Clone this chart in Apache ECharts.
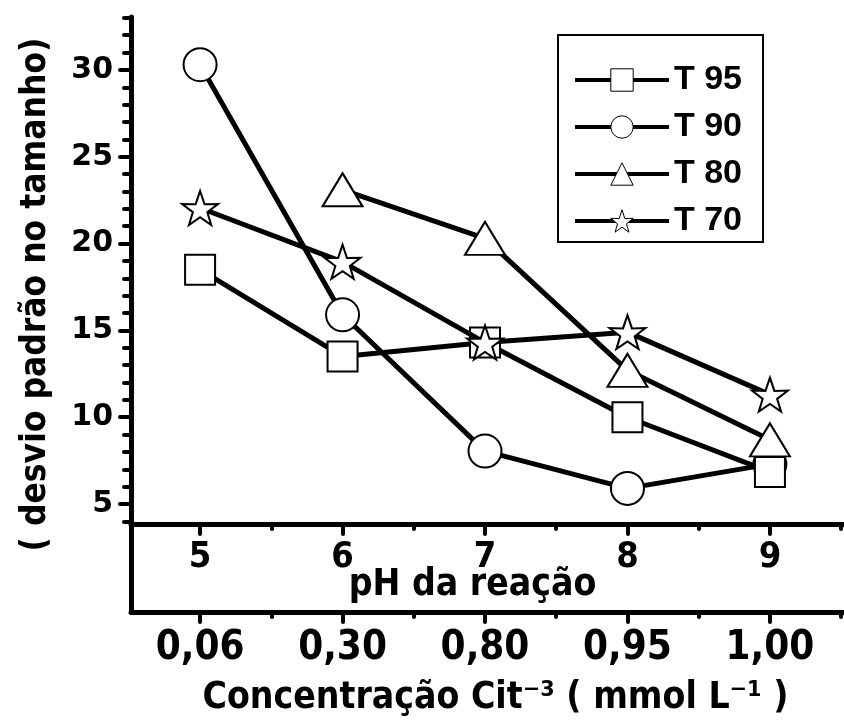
<!DOCTYPE html>
<html lang="pt">
<head>
<meta charset="utf-8">
<title>desvio padrão no tamanho</title>
<script src="https://cdn.jsdelivr.net/npm/echarts@6/dist/echarts.min.js"></script>
<style>
html,body{margin:0;padding:0;background:#fff;}
#main{width:844px;height:722px;}
</style>
</head>
<body>
<div id="main"></div>
<script>
var pH = [5, 6, 7, 8, 9];
var concLabels = ['0,06', '0,30', '0,80', '0,95', '1,00'];
var yTicks = [5, 10, 15, 20, 25, 30];
var yMinor = [4, 6, 7, 8, 9, 11, 12, 13, 14, 16, 17, 18, 19, 21, 22, 23, 24, 26, 27, 28, 29, 31, 32, 33];
var xMinor = [5.5, 6.5, 7.5, 8.5, 9.5];

var t95 = [18.5, 13.5, 14.3, 10.0, 6.85];
var t90 = [30.3, 15.9, 8.05, 5.9, 7.3];
var t80 = [null, 23.1, 20.3, 12.7, 8.7];
var t70 = [22.05, 18.95, 14.3, 14.9, 11.3];

var fontBold = 'DejaVu Sans';
var fontCond = 'DejaVu Sans Condensed';

function pairs(vals){
	var out = [];
	for (var i = 0; i < pH.length; i++) {
		if (vals[i] != null) out.push([pH[i], vals[i]]);
	}
	return out;
}

function serie(name, vals, symbol, size, z){
	return {
		name: name,
		type: 'line',
		xAxisIndex: 0,
		yAxisIndex: 0,
		data: pairs(vals),
		symbol: symbol,
		symbolSize: size,
		lineStyle: {color: '#000', width: 5},
		itemStyle: {color: '#fff', borderColor: '#000', borderWidth: 2},
		emphasis: {disabled: true},
		z: z
	};
}

var tickStyle = {color: '#000', width: 4, cap: 'round'};
var xMin = 4.515, xMax = 9.52;

var chart = echarts.init(document.getElementById('main'));
chart.setOption({
	backgroundColor: '#fff',
	animation: false,
	grid: [
		{left: 131, right: 0, top: 17, height: 507},
		{left: 131, right: 0, top: 524, height: 88}
	],
	legend: {
		left: 558,
		top: 35,
		orient: 'vertical',
		itemWidth: 94,
		itemHeight: 28,
		itemGap: 13,
		padding: [28, 21, 4, 15],
		borderColor: '#000',
		borderWidth: 2,
		itemStyle: {borderWidth: 1},
		lineStyle: {width: 4},
		textStyle: {fontFamily: 'Liberation Sans', fontWeight: 'bold', fontSize: 34, color: '#000'},
		data: ['T 95', 'T 90', 'T 80', 'T 70']
	},
	xAxis: [
		{
			type: 'value', gridIndex: 0, position: 'bottom', min: xMin, max: xMax,
			name: 'pH da reação', nameLocation: 'middle', nameGap: 43, nameMoveOverlap: false,
			nameTextStyle: {fontFamily: fontCond, fontWeight: 'bold', fontSize: 37, color: '#000', padding: [0, 30, 0, 0]},
			axisLine: {lineStyle: {color: '#000', width: 5}},
			axisTick: {customValues: pH, length: 10, lineStyle: tickStyle},
			axisLabel: {customValues: pH, margin: 16, fontFamily: fontCond, fontWeight: 'bold', fontSize: 36, color: '#000'},
			splitLine: {show: false}
		},
		{
			type: 'value', gridIndex: 1, position: 'bottom', min: xMin, max: xMax,
			name: 'Concentração Cit⁻³ ( mmol L⁻¹ )', nameLocation: 'middle', nameGap: 68,
			nameTextStyle: {fontFamily: fontCond, fontWeight: 'bold', fontSize: 37, color: '#000', padding: [0, 0, 0, 16]},
			axisLine: {lineStyle: {color: '#000', width: 5}},
			axisTick: {customValues: pH, length: 10, lineStyle: tickStyle},
			axisLabel: {
				customValues: pH, margin: 17, fontFamily: fontCond, fontWeight: 'bold', fontSize: 40, color: '#000',
				formatter: function(v){ return concLabels[pH.indexOf(v)]; }
			},
			splitLine: {show: false}
		},
		{
			type: 'value', gridIndex: 0, position: 'bottom', min: xMin, max: xMax,
			axisLine: {show: false},
			axisTick: {customValues: xMinor, length: 5, lineStyle: tickStyle},
			axisLabel: {show: false},
			splitLine: {show: false}
		},
		{
			type: 'value', gridIndex: 1, position: 'bottom', min: xMin, max: xMax,
			axisLine: {show: false},
			axisTick: {customValues: xMinor, length: 5, lineStyle: tickStyle},
			axisLabel: {show: false},
			splitLine: {show: false}
		}
	],
	yAxis: [
		{
			type: 'value', gridIndex: 0, position: 'left', min: 3.85, max: 33.05,
			name: '( desvio padrão no tamanho)', nameLocation: 'middle', nameGap: 78,
			nameTextStyle: {fontFamily: fontCond, fontWeight: 'bold', fontSize: 35, color: '#000', padding: [0, 48, 0, 0]},
			axisLine: {lineStyle: {color: '#000', width: 5}},
			axisTick: {customValues: yTicks, length: 11, lineStyle: tickStyle},
			axisLabel: {customValues: yTicks, margin: 18, fontFamily: fontBold, fontWeight: 'bold', fontSize: 30, color: '#000'},
			splitLine: {show: false}
		},
		{
			type: 'value', gridIndex: 1, position: 'left', min: 0, max: 1,
			axisLine: {lineStyle: {color: '#000', width: 5}},
			axisTick: {show: false},
			axisLabel: {show: false},
			splitLine: {show: false}
		},
		{
			type: 'value', gridIndex: 0, position: 'left', min: 3.85, max: 33.05,
			axisLine: {show: false},
			axisTick: {customValues: yMinor, length: 7, lineStyle: tickStyle},
			axisLabel: {show: false},
			splitLine: {show: false}
		}
	],
	series: [
		serie('T 95', t95, 'rect', 30, 4),
		serie('T 90', t90, 'circle', 33, 3),
		serie('T 80', t80, 'triangle', [40, 33], 5),
		serie('T 70', t70, 'path://M50,0 L61.8,35.3 L97.6,34.5 L69.1,56.5 L79.4,90.5 L50,70 L20.6,90.5 L30.9,56.5 L2.4,34.5 L38.2,35.3 Z', [36, 34], 6)
	]
});
</script>
</body>
</html>
